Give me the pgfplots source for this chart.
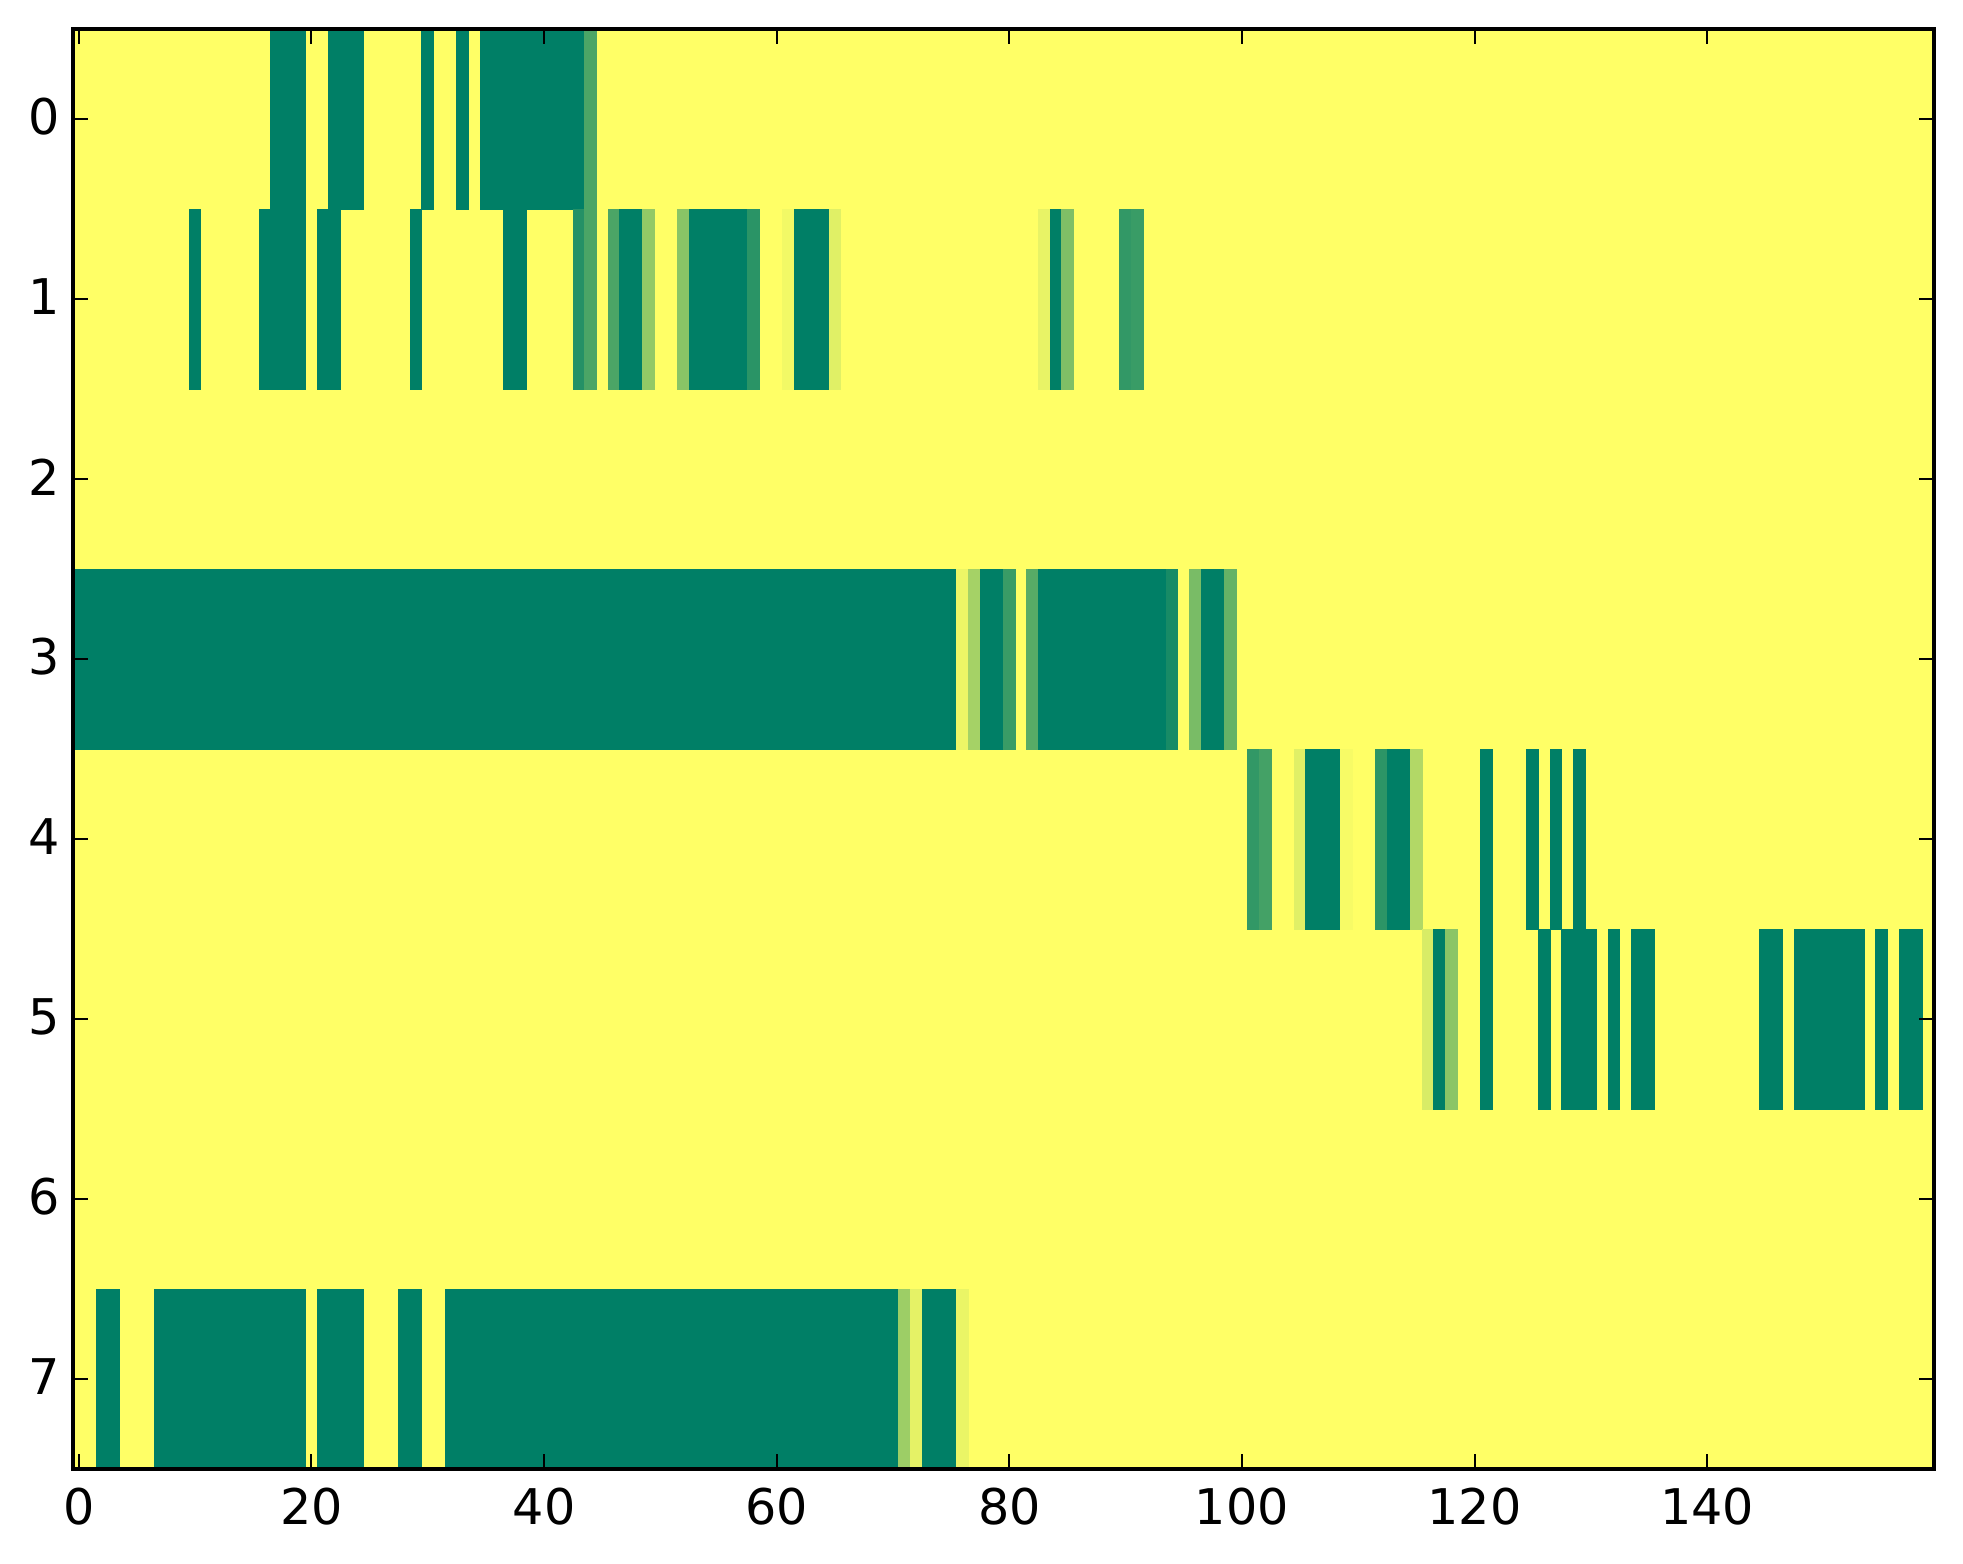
\documentclass[border=0pt]{standalone}
\usepackage{pgfplots}
\usepackage{fontspec}
\setmainfont{DejaVu Sans}
\pgfplotsset{compat=1.18}
\pgfplotstableread[row sep=\\]{
x y v\\
16.5 -0.5 1\\ 19.5 -0.5 1\\ 19.5 0.5 1\\ 16.5 0.5 1\\
21.5 -0.5 1\\ 24.5 -0.5 1\\ 24.5 0.5 1\\ 21.5 0.5 1\\
29.5 -0.5 1\\ 30.5 -0.5 1\\ 30.5 0.5 1\\ 29.5 0.5 1\\
32.5 -0.5 1\\ 33.5 -0.5 1\\ 33.5 0.5 1\\ 32.5 0.5 1\\
34.5 -0.5 1\\ 43.5 -0.5 1\\ 43.5 0.5 1\\ 34.5 0.5 1\\
43.5 -0.5 .70\\ 44.5 -0.5 .70\\ 44.5 0.5 .70\\ 43.5 0.5 .70\\
9.5 0.5 1\\ 10.5 0.5 1\\ 10.5 1.5 1\\ 9.5 1.5 1\\
15.5 0.5 1\\ 19.5 0.5 1\\ 19.5 1.5 1\\ 15.5 1.5 1\\
20.5 0.5 1\\ 22.5 0.5 1\\ 22.5 1.5 1\\ 20.5 1.5 1\\
28.5 0.5 1\\ 29.5 0.5 1\\ 29.5 1.5 1\\ 28.5 1.5 1\\
36.5 0.5 1\\ 38.5 0.5 1\\ 38.5 1.5 1\\ 36.5 1.5 1\\
42.5 0.5 .85\\ 43.5 0.5 .85\\ 43.5 1.5 .85\\ 42.5 1.5 .85\\
43.5 0.5 .70\\ 44.5 0.5 .70\\ 44.5 1.5 .70\\ 43.5 1.5 .70\\
45.5 0.5 .70\\ 46.5 0.5 .70\\ 46.5 1.5 .70\\ 45.5 1.5 .70\\
46.5 0.5 1\\ 48.5 0.5 1\\ 48.5 1.5 1\\ 46.5 1.5 1\\
48.5 0.5 .42\\ 49.5 0.5 .42\\ 49.5 1.5 .42\\ 48.5 1.5 .42\\
51.5 0.5 .46\\ 52.5 0.5 .46\\ 52.5 1.5 .46\\ 51.5 1.5 .46\\
52.5 0.5 1\\ 57.5 0.5 1\\ 57.5 1.5 1\\ 52.5 1.5 1\\
57.5 0.5 .83\\ 58.5 0.5 .83\\ 58.5 1.5 .83\\ 57.5 1.5 .83\\
60.5 0.5 .05\\ 61.5 0.5 .05\\ 61.5 1.5 .05\\ 60.5 1.5 .05\\
61.5 0.5 1\\ 64.5 0.5 1\\ 64.5 1.5 1\\ 61.5 1.5 1\\
64.5 0.5 .12\\ 65.5 0.5 .12\\ 65.5 1.5 .12\\ 64.5 1.5 .12\\
82.5 0.5 .09\\ 83.5 0.5 .09\\ 83.5 1.5 .09\\ 82.5 1.5 .09\\
83.5 0.5 1\\ 84.5 0.5 1\\ 84.5 1.5 1\\ 83.5 1.5 1\\
84.5 0.5 .50\\ 85.5 0.5 .50\\ 85.5 1.5 .50\\ 84.5 1.5 .50\\
89.5 0.5 .80\\ 90.5 0.5 .80\\ 90.5 1.5 .80\\ 89.5 1.5 .80\\
90.5 0.5 .77\\ 91.5 0.5 .77\\ 91.5 1.5 .77\\ 90.5 1.5 .77\\
-0.5 2.5 1\\ 75.5 2.5 1\\ 75.5 3.5 1\\ -0.5 3.5 1\\
75.5 2.5 .07\\ 76.5 2.5 .07\\ 76.5 3.5 .07\\ 75.5 3.5 .07\\
76.5 2.5 .35\\ 77.5 2.5 .35\\ 77.5 3.5 .35\\ 76.5 3.5 .35\\
77.5 2.5 1\\ 79.5 2.5 1\\ 79.5 3.5 1\\ 77.5 3.5 1\\
79.5 2.5 .77\\ 80.5 2.5 .77\\ 80.5 3.5 .77\\ 79.5 3.5 .77\\
81.5 2.5 .65\\ 82.5 2.5 .65\\ 82.5 3.5 .65\\ 81.5 3.5 .65\\
82.5 2.5 1\\ 93.5 2.5 1\\ 93.5 3.5 1\\ 82.5 3.5 1\\
93.5 2.5 .90\\ 94.5 2.5 .90\\ 94.5 3.5 .90\\ 93.5 3.5 .90\\
95.5 2.5 .52\\ 96.5 2.5 .52\\ 96.5 3.5 .52\\ 95.5 3.5 .52\\
96.5 2.5 1\\ 98.5 2.5 1\\ 98.5 3.5 1\\ 96.5 3.5 1\\
98.5 2.5 .60\\ 99.5 2.5 .60\\ 99.5 3.5 .60\\ 98.5 3.5 .60\\
100.5 3.5 .80\\ 101.5 3.5 .80\\ 101.5 4.5 .80\\ 100.5 4.5 .80\\
101.5 3.5 .73\\ 102.5 3.5 .73\\ 102.5 4.5 .73\\ 101.5 4.5 .73\\
104.5 3.5 .12\\ 105.5 3.5 .12\\ 105.5 4.5 .12\\ 104.5 4.5 .12\\
105.5 3.5 1\\ 108.5 3.5 1\\ 108.5 4.5 1\\ 105.5 4.5 1\\
108.5 3.5 .03\\ 109.5 3.5 .03\\ 109.5 4.5 .03\\ 108.5 4.5 .03\\
111.5 3.5 .82\\ 112.5 3.5 .82\\ 112.5 4.5 .82\\ 111.5 4.5 .82\\
112.5 3.5 1\\ 114.5 3.5 1\\ 114.5 4.5 1\\ 112.5 4.5 1\\
114.5 3.5 .30\\ 115.5 3.5 .30\\ 115.5 4.5 .30\\ 114.5 4.5 .30\\
120.5 3.5 1\\ 121.5 3.5 1\\ 121.5 4.5 1\\ 120.5 4.5 1\\
124.5 3.5 1\\ 125.5 3.5 1\\ 125.5 4.5 1\\ 124.5 4.5 1\\
126.5 3.5 1\\ 127.5 3.5 1\\ 127.5 4.5 1\\ 126.5 4.5 1\\
128.5 3.5 1\\ 129.5 3.5 1\\ 129.5 4.5 1\\ 128.5 4.5 1\\
115.5 4.5 .15\\ 116.5 4.5 .15\\ 116.5 5.5 .15\\ 115.5 5.5 .15\\
116.5 4.5 1\\ 117.5 4.5 1\\ 117.5 5.5 1\\ 116.5 5.5 1\\
117.5 4.5 .45\\ 118.5 4.5 .45\\ 118.5 5.5 .45\\ 117.5 5.5 .45\\
120.5 4.5 1\\ 121.5 4.5 1\\ 121.5 5.5 1\\ 120.5 5.5 1\\
125.5 4.5 1\\ 126.5 4.5 1\\ 126.5 5.5 1\\ 125.5 5.5 1\\
127.5 4.5 1\\ 130.5 4.5 1\\ 130.5 5.5 1\\ 127.5 5.5 1\\
131.5 4.5 1\\ 132.5 4.5 1\\ 132.5 5.5 1\\ 131.5 5.5 1\\
133.5 4.5 1\\ 135.5 4.5 1\\ 135.5 5.5 1\\ 133.5 5.5 1\\
144.5 4.5 1\\ 146.5 4.5 1\\ 146.5 5.5 1\\ 144.5 5.5 1\\
147.5 4.5 1\\ 153.5 4.5 1\\ 153.5 5.5 1\\ 147.5 5.5 1\\
154.5 4.5 1\\ 155.5 4.5 1\\ 155.5 5.5 1\\ 154.5 5.5 1\\
156.5 4.5 1\\ 158.5 4.5 1\\ 158.5 5.5 1\\ 156.5 5.5 1\\
1.5 6.5 1\\ 3.5 6.5 1\\ 3.5 7.5 1\\ 1.5 7.5 1\\
6.5 6.5 1\\ 19.5 6.5 1\\ 19.5 7.5 1\\ 6.5 7.5 1\\
20.5 6.5 1\\ 24.5 6.5 1\\ 24.5 7.5 1\\ 20.5 7.5 1\\
27.5 6.5 1\\ 29.5 6.5 1\\ 29.5 7.5 1\\ 27.5 7.5 1\\
31.5 6.5 1\\ 70.5 6.5 1\\ 70.5 7.5 1\\ 31.5 7.5 1\\
70.5 6.5 .38\\ 71.5 6.5 .38\\ 71.5 7.5 .38\\ 70.5 7.5 .38\\
71.5 6.5 .10\\ 72.5 6.5 .10\\ 72.5 7.5 .10\\ 71.5 7.5 .10\\
72.5 6.5 1\\ 75.5 6.5 1\\ 75.5 7.5 1\\ 72.5 7.5 1\\
75.5 6.5 .08\\ 76.5 6.5 .08\\ 76.5 7.5 .08\\ 75.5 7.5 .08\\
}\cells
\definecolor{summerlow}{RGB}{255,255,102}
\begin{document}
\begin{tikzpicture}
\useasboundingbox (-18.25pt,-23.75pt) rectangle (472.5pt,367.25pt);
\begin{axis}[
  scale only axis,
  width=465.25pt, height=360pt,
  xmin=-0.5, xmax=159.5, ymin=-0.5, ymax=7.5,
  y dir=reverse,
  axis on top,
  axis background/.style={fill=summerlow},
  colormap={summerrev}{rgb255=(255,255,102) rgb255=(0,127,102)},
  point meta min=0, point meta max=1,
  xtick={0,20,...,140}, ytick={0,1,...,7},
  tick align=inside, tick pos=both,
  major tick length=3.85pt,
  every tick/.style={black, line width=0.5pt},
  axis line style={line width=1pt},
  tick label style={font=\fontsize{12.3pt}{14pt}\selectfont},
  /pgf/number format/assume math mode=true,
  xticklabel style={yshift=-1.3pt},
  yticklabel style={xshift=0.3pt, yshift=0.55pt},
]
\addplot[patch, patch type=rectangle, shader=flat, line width=0pt, point meta=explicit] table[x=x, y=y, meta=v] {\cells};
\end{axis}
\end{tikzpicture}
\end{document}
